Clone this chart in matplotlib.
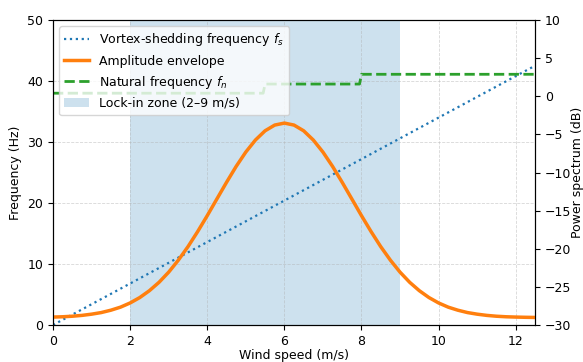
import numpy as np
import matplotlib.pyplot as plt

# wind speed samples (m/s)
wind = [0.0, 0.25, 0.5, 0.75, 1.0, 1.25, 1.5, 1.75, 2.0, 2.25, 2.5, 2.75, 3.0,
        3.25, 3.5, 3.75, 4.0, 4.25, 4.5, 4.75, 5.0, 5.25, 5.5, 5.75, 6.0,
        6.25, 6.5, 6.75, 7.0, 7.25, 7.5, 7.75, 8.0, 8.25, 8.5, 8.75, 9.0,
        9.25, 9.5, 9.75, 10.0, 10.25, 10.5, 10.75, 11.0, 11.25, 11.5, 11.75,
        12.0, 12.25, 12.5]
# amplitude envelope (dB)
amp_db = [-28.96, -28.92, -28.85, -28.74, -28.58, -28.37, -28.06, -27.66,
          -27.11, -26.40, -25.50, -24.40, -23.07, -21.50, -19.73, -17.76,
          -15.66, -13.47, -11.29, -9.20, -7.32, -5.74, -4.53, -3.78, -3.52,
          -3.78, -4.53, -5.74, -7.32, -9.20, -11.29, -13.47, -15.66, -17.76,
          -19.73, -21.50, -23.07, -24.40, -25.50, -26.40, -27.11, -27.66,
          -28.06, -28.37, -28.58, -28.74, -28.85, -28.92, -28.96, -28.99,
          -29.01]

# vortex-shedding frequency (Hz)
fs_wind = [0.0, 12.5]
fs_hz = [0.0, 42.5]

# natural frequency steps (Hz)
fn_wind = [0.0, 5.45, 5.5, 7.95, 8.0, 12.5]
fn_hz = [38.0, 38.0, 39.5, 39.5, 41.1, 41.1]

lock_in = (2, 9)

plt.rcParams['font.size'] = 9
fig = plt.figure(figsize=(5.83, 3.62), dpi=100)
ax = fig.add_axes([53/583, 1 - 325/362, (535-53)/583, (325-20)/362])
ax2 = ax.twinx()

span = ax.axvspan(*lock_in, color='C0', alpha=0.22, lw=0, label='Lock-in zone (2–9 m/s)')
l1, = ax.plot(fs_wind, fs_hz, ':', color='C0', lw=1.6, label='Vortex-shedding frequency $f_s$')
l3, = ax.plot(fn_wind, fn_hz, '--', color='C2', lw=2, label='Natural frequency $f_n$')
l2, = ax2.plot(wind, amp_db, color='C1', lw=2.5, label='Amplitude envelope')

ax.set_xlim(0, 12.5)
ax.set_ylim(0, 50)
ax2.set_ylim(-30, 10)
ax.set_xlabel('Wind speed (m/s)', labelpad=1)
ax.set_ylabel('Frequency (Hz)')
ax2.set_ylabel('Power spectrum (dB)')
ax2.yaxis.set_label_coords(1.074, 0.5)
ax.grid(True, ls='--', lw=0.6, alpha=0.5)

ax2.legend([l1, l2, l3, span],
           [l1.get_label(), l2.get_label(), l3.get_label(), span.get_label()],
           loc='upper left', framealpha=0.8)

fig.savefig('out.png', dpi=100)
